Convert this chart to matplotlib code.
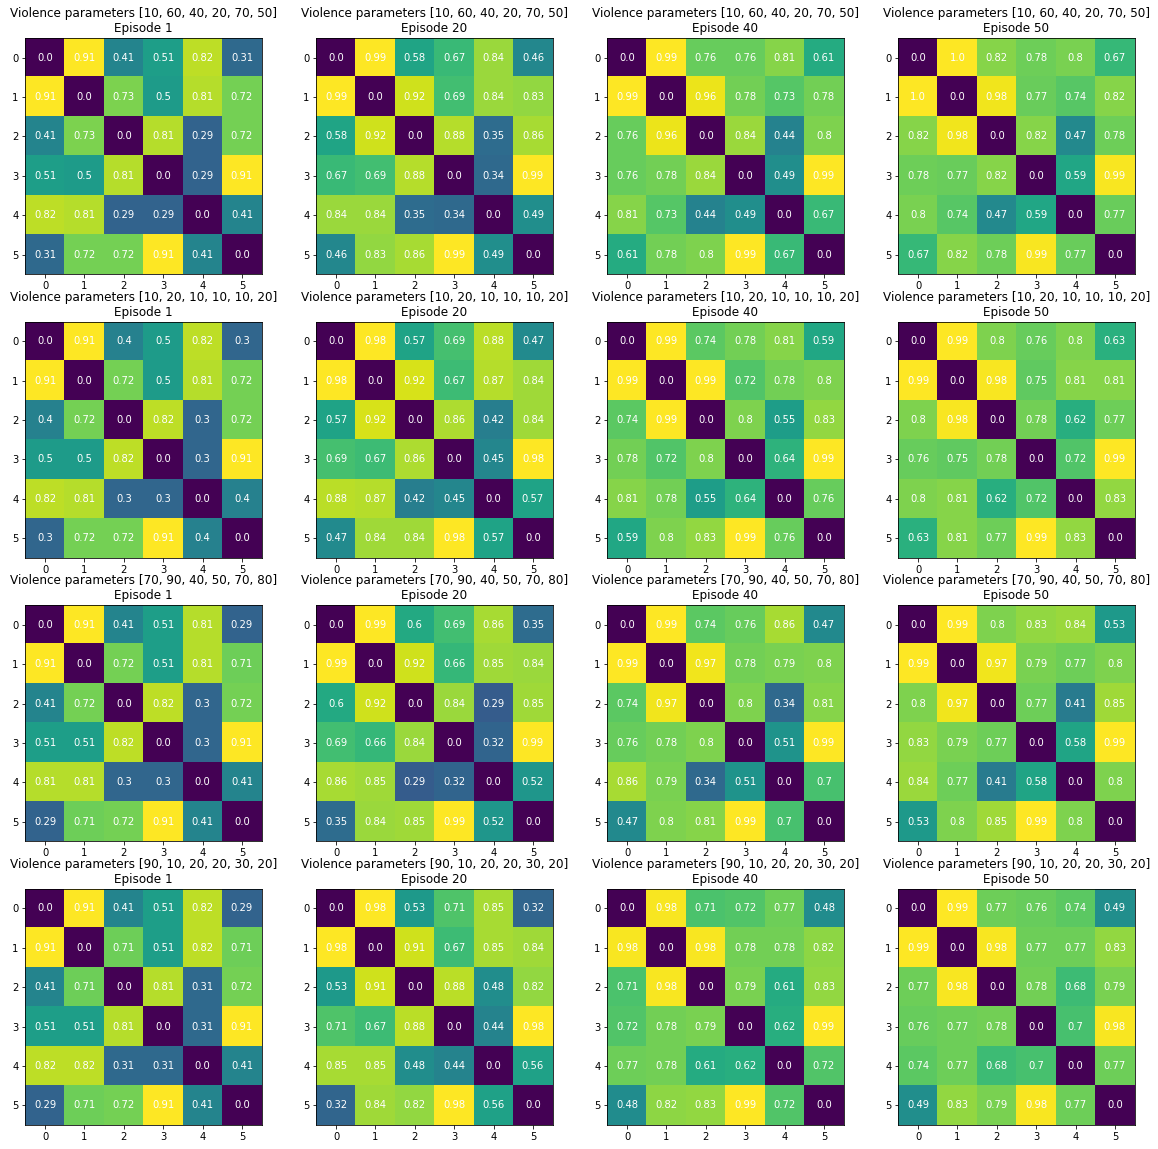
import numpy as np
from matplotlib import pyplot as plt

episodes = [1, 20, 40, 50]
violence_params = [
    [10, 60, 40, 20, 70, 50],
    [10, 20, 10, 10, 10, 20],
    [70, 90, 40, 50, 70, 80],
    [90, 10, 20, 20, 30, 20],
]

# params [10, 60, 40, 20, 70, 50]
p1_ep1 = [[0.0, 0.91, 0.41, 0.51, 0.82, 0.31],
          [0.91, 0.0, 0.73, 0.5, 0.81, 0.72],
          [0.41, 0.73, 0.0, 0.81, 0.29, 0.72],
          [0.51, 0.5, 0.81, 0.0, 0.29, 0.91],
          [0.82, 0.81, 0.29, 0.29, 0.0, 0.41],
          [0.31, 0.72, 0.72, 0.91, 0.41, 0.0]]
p1_ep20 = [[0.0, 0.99, 0.58, 0.67, 0.84, 0.46],
           [0.99, 0.0, 0.92, 0.69, 0.84, 0.83],
           [0.58, 0.92, 0.0, 0.88, 0.35, 0.86],
           [0.67, 0.69, 0.88, 0.0, 0.34, 0.99],
           [0.84, 0.84, 0.35, 0.34, 0.0, 0.49],
           [0.46, 0.83, 0.86, 0.99, 0.49, 0.0]]
p1_ep40 = [[0.0, 0.99, 0.76, 0.76, 0.81, 0.61],
           [0.99, 0.0, 0.96, 0.78, 0.73, 0.78],
           [0.76, 0.96, 0.0, 0.84, 0.44, 0.8],
           [0.76, 0.78, 0.84, 0.0, 0.49, 0.99],
           [0.81, 0.73, 0.44, 0.49, 0.0, 0.67],
           [0.61, 0.78, 0.8, 0.99, 0.67, 0.0]]
p1_ep50 = [[0.0, 1.0, 0.82, 0.78, 0.8, 0.67],
           [1.0, 0.0, 0.98, 0.77, 0.74, 0.82],
           [0.82, 0.98, 0.0, 0.82, 0.47, 0.78],
           [0.78, 0.77, 0.82, 0.0, 0.59, 0.99],
           [0.8, 0.74, 0.47, 0.59, 0.0, 0.77],
           [0.67, 0.82, 0.78, 0.99, 0.77, 0.0]]

# params [10, 20, 10, 10, 10, 20]
p2_ep1 = [[0.0, 0.91, 0.4, 0.5, 0.82, 0.3],
          [0.91, 0.0, 0.72, 0.5, 0.81, 0.72],
          [0.4, 0.72, 0.0, 0.82, 0.3, 0.72],
          [0.5, 0.5, 0.82, 0.0, 0.3, 0.91],
          [0.82, 0.81, 0.3, 0.3, 0.0, 0.4],
          [0.3, 0.72, 0.72, 0.91, 0.4, 0.0]]
p2_ep20 = [[0.0, 0.98, 0.57, 0.69, 0.88, 0.47],
           [0.98, 0.0, 0.92, 0.67, 0.87, 0.84],
           [0.57, 0.92, 0.0, 0.86, 0.42, 0.84],
           [0.69, 0.67, 0.86, 0.0, 0.45, 0.98],
           [0.88, 0.87, 0.42, 0.45, 0.0, 0.57],
           [0.47, 0.84, 0.84, 0.98, 0.57, 0.0]]
p2_ep40 = [[0.0, 0.99, 0.74, 0.78, 0.81, 0.59],
           [0.99, 0.0, 0.99, 0.72, 0.78, 0.8],
           [0.74, 0.99, 0.0, 0.8, 0.55, 0.83],
           [0.78, 0.72, 0.8, 0.0, 0.64, 0.99],
           [0.81, 0.78, 0.55, 0.64, 0.0, 0.76],
           [0.59, 0.8, 0.83, 0.99, 0.76, 0.0]]
p2_ep50 = [[0.0, 0.99, 0.8, 0.76, 0.8, 0.63],
           [0.99, 0.0, 0.98, 0.75, 0.81, 0.81],
           [0.8, 0.98, 0.0, 0.78, 0.62, 0.77],
           [0.76, 0.75, 0.78, 0.0, 0.72, 0.99],
           [0.8, 0.81, 0.62, 0.72, 0.0, 0.83],
           [0.63, 0.81, 0.77, 0.99, 0.83, 0.0]]

# params [70, 90, 40, 50, 70, 80]
p3_ep1 = [[0.0, 0.91, 0.41, 0.51, 0.81, 0.29],
          [0.91, 0.0, 0.72, 0.51, 0.81, 0.71],
          [0.41, 0.72, 0.0, 0.82, 0.3, 0.72],
          [0.51, 0.51, 0.82, 0.0, 0.3, 0.91],
          [0.81, 0.81, 0.3, 0.3, 0.0, 0.41],
          [0.29, 0.71, 0.72, 0.91, 0.41, 0.0]]
p3_ep20 = [[0.0, 0.99, 0.6, 0.69, 0.86, 0.35],
           [0.99, 0.0, 0.92, 0.66, 0.85, 0.84],
           [0.6, 0.92, 0.0, 0.84, 0.29, 0.85],
           [0.69, 0.66, 0.84, 0.0, 0.32, 0.99],
           [0.86, 0.85, 0.29, 0.32, 0.0, 0.52],
           [0.35, 0.84, 0.85, 0.99, 0.52, 0.0]]
p3_ep40 = [[0.0, 0.99, 0.74, 0.76, 0.86, 0.47],
           [0.99, 0.0, 0.97, 0.78, 0.79, 0.8],
           [0.74, 0.97, 0.0, 0.8, 0.34, 0.81],
           [0.76, 0.78, 0.8, 0.0, 0.51, 0.99],
           [0.86, 0.79, 0.34, 0.51, 0.0, 0.7],
           [0.47, 0.8, 0.81, 0.99, 0.7, 0.0]]
p3_ep50 = [[0.0, 0.99, 0.8, 0.83, 0.84, 0.53],
           [0.99, 0.0, 0.97, 0.79, 0.77, 0.8],
           [0.8, 0.97, 0.0, 0.77, 0.41, 0.85],
           [0.83, 0.79, 0.77, 0.0, 0.58, 0.99],
           [0.84, 0.77, 0.41, 0.58, 0.0, 0.8],
           [0.53, 0.8, 0.85, 0.99, 0.8, 0.0]]

# params [90, 10, 20, 20, 30, 20]
p4_ep1 = [[0.0, 0.91, 0.41, 0.51, 0.82, 0.29],
          [0.91, 0.0, 0.71, 0.51, 0.82, 0.71],
          [0.41, 0.71, 0.0, 0.81, 0.31, 0.72],
          [0.51, 0.51, 0.81, 0.0, 0.31, 0.91],
          [0.82, 0.82, 0.31, 0.31, 0.0, 0.41],
          [0.29, 0.71, 0.72, 0.91, 0.41, 0.0]]
p4_ep20 = [[0.0, 0.98, 0.53, 0.71, 0.85, 0.32],
           [0.98, 0.0, 0.91, 0.67, 0.85, 0.84],
           [0.53, 0.91, 0.0, 0.88, 0.48, 0.82],
           [0.71, 0.67, 0.88, 0.0, 0.44, 0.98],
           [0.85, 0.85, 0.48, 0.44, 0.0, 0.56],
           [0.32, 0.84, 0.82, 0.98, 0.56, 0.0]]
p4_ep40 = [[0.0, 0.98, 0.71, 0.72, 0.77, 0.48],
           [0.98, 0.0, 0.98, 0.78, 0.78, 0.82],
           [0.71, 0.98, 0.0, 0.79, 0.61, 0.83],
           [0.72, 0.78, 0.79, 0.0, 0.62, 0.99],
           [0.77, 0.78, 0.61, 0.62, 0.0, 0.72],
           [0.48, 0.82, 0.83, 0.99, 0.72, 0.0]]
p4_ep50 = [[0.0, 0.99, 0.77, 0.76, 0.74, 0.49],
           [0.99, 0.0, 0.98, 0.77, 0.77, 0.83],
           [0.77, 0.98, 0.0, 0.78, 0.68, 0.79],
           [0.76, 0.77, 0.78, 0.0, 0.7, 0.98],
           [0.74, 0.77, 0.68, 0.7, 0.0, 0.77],
           [0.49, 0.83, 0.79, 0.98, 0.77, 0.0]]

matrices = [
    [p1_ep1, p1_ep20, p1_ep40, p1_ep50],
    [p2_ep1, p2_ep20, p2_ep40, p2_ep50],
    [p3_ep1, p3_ep20, p3_ep40, p3_ep50],
    [p4_ep1, p4_ep20, p4_ep40, p4_ep50],
]

plt.rcParams['font.size'] = 10

fig, axes = plt.subplots(4, 4, figsize=(1158 / 72, 1149 / 72), dpi=72)
plt.subplots_adjust(left=0.0216, right=0.9801, top=0.9669, bottom=0.0209,
                    wspace=0.228, hspace=0.2)

for i, params in enumerate(violence_params):
    for j, ep in enumerate(episodes):
        ax = axes[i, j]
        mat = np.array(matrices[i][j])
        ax.imshow(mat, cmap='viridis')
        for r in range(mat.shape[0]):
            for c in range(mat.shape[1]):
                ax.text(c, r, str(mat[r, c]), ha='center', va='center', color='w', fontsize=10)
        ax.set_xticks(range(6))
        ax.set_yticks(range(6))
        ax.set_title(f'Violence parameters {params}\nEpisode {ep}', fontsize=12)

plt.savefig('out.png', dpi=72)
plt.close()
